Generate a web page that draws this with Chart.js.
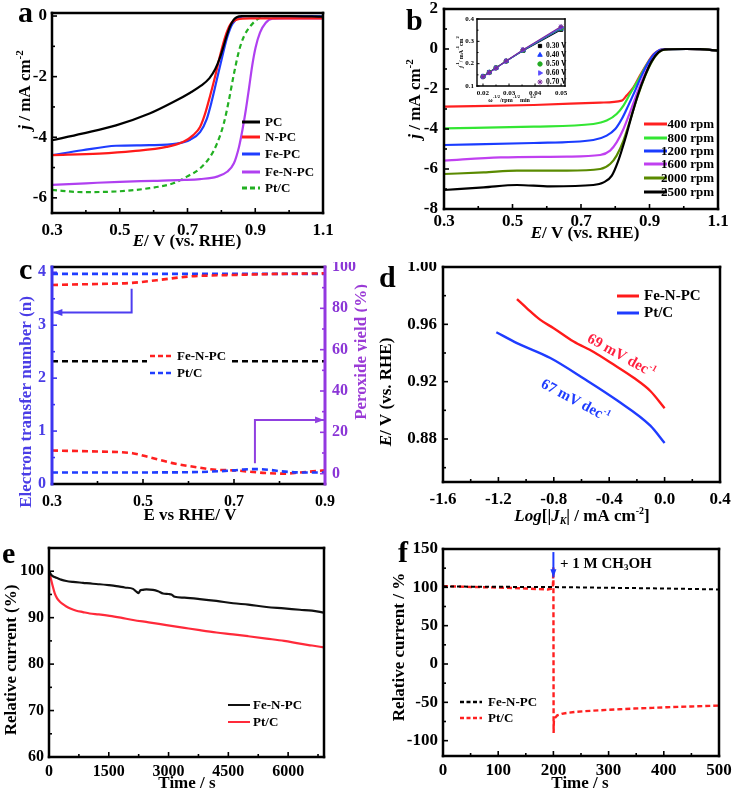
<!DOCTYPE html>
<html><head><meta charset="utf-8"><title>ORR performance figure</title>
<script src="https://cdn.jsdelivr.net/npm/chart.js@4.4.1/dist/chart.umd.min.js"></script>
<style>
html,body{margin:0;padding:0;background:#fff}
body{position:relative;width:734px;height:793px;overflow:hidden}
canvas{position:absolute;display:block}
#cBi{z-index:2}
</style></head><body>
<canvas id="cA"></canvas><canvas id="cB"></canvas><canvas id="cBi"></canvas><canvas id="cC"></canvas><canvas id="cD"></canvas><canvas id="cE"></canvas><canvas id="cF"></canvas>
<script>
// ================= DATA =================
// (a) LSV at 1600 rpm
const aPC_E   = [0.300,0.389,0.489,0.588,0.658,0.708,0.740,0.765,0.782,0.795,0.805,0.815,0.825,0.835,0.845,0.860,0.896,1.000,1.100];
const aPC_j   = [-4.10,-3.88,-3.61,-3.22,-2.84,-2.53,-2.30,-2.05,-1.75,-1.40,-1.05,-0.68,-0.36,-0.14,-0.04,0.00,0.00,0.00,-0.02];
const aNPC_E  = [0.300,0.439,0.539,0.638,0.688,0.717,0.737,0.752,0.767,0.782,0.797,0.812,0.827,0.847,0.886,1.000,1.100];
const aNPC_j  = [-4.59,-4.54,-4.46,-4.32,-4.15,-3.93,-3.66,-3.22,-2.62,-1.97,-1.26,-0.66,-0.27,-0.11,-0.08,-0.08,-0.08];
const aFePC_E = [0.300,0.389,0.489,0.588,0.668,0.708,0.737,0.757,0.772,0.787,0.802,0.817,0.832,0.852,0.877,1.000,1.100];
const aFePC_j = [-4.59,-4.43,-4.28,-4.26,-4.21,-4.08,-3.83,-3.39,-2.79,-2.08,-1.37,-0.71,-0.27,-0.05,0.00,0.00,-0.01];
const aFeNPC_E= [0.300,0.400,0.500,0.600,0.690,0.737,0.787,0.817,0.837,0.852,0.862,0.872,0.882,0.891,0.901,0.914,0.931,0.951,0.986,1.100];
const aFeNPC_j= [-5.57,-5.52,-5.47,-5.44,-5.41,-5.38,-5.30,-5.14,-4.86,-4.32,-3.77,-3.11,-2.35,-1.64,-1.04,-0.55,-0.22,-0.09,-0.08,-0.08];
const aPtC_E  = [0.300,0.389,0.489,0.588,0.658,0.698,0.737,0.767,0.787,0.807,0.822,0.837,0.852,0.867,0.886,0.906,0.936,1.000,1.100];
const aPtC_j  = [-5.74,-5.81,-5.79,-5.68,-5.52,-5.30,-5.03,-4.64,-4.21,-3.55,-2.79,-1.91,-1.15,-0.66,-0.33,-0.11,0.00,0.00,0.00];
const aLabels = ['PC','N-PC','Fe-PC','Fe-N-PC','Pt/C'];
const aTicksX = ['0.3','0.5','0.7','0.9','1.1'];
const aTicksY = ['0','-2','-4','-6'];

// (b) LSV of Fe-N-PC at different rotation rates
const bLabels = ['400 rpm','800 rpm','1200 rpm','1600 rpm','2000 rpm','2500 rpm'];
const b400_E  = [0.300,0.562,0.756,0.819,0.833,0.853,0.872,0.892,0.911,0.930,0.950,1.008,1.047,1.100];
const b400_j  = [-2.88,-2.80,-2.68,-2.58,-2.33,-1.92,-1.33,-0.75,-0.28,-0.05,0.00,0.00,-0.01,-0.08];
const b800_E  = [0.300,0.562,0.736,0.775,0.804,0.824,0.843,0.863,0.882,0.901,0.921,0.940,1.008,1.047,1.100];
const b800_j  = [-3.97,-3.88,-3.75,-3.58,-3.25,-2.83,-2.25,-1.67,-1.08,-0.55,-0.17,-0.02,0.00,-0.01,-0.08];
const b1200_E = [0.300,0.562,0.736,0.775,0.800,0.819,0.838,0.858,0.877,0.897,0.916,0.935,1.008,1.047,1.100];
const b1200_j = [-4.80,-4.70,-4.55,-4.33,-4.00,-3.50,-2.83,-2.08,-1.33,-0.67,-0.22,-0.03,0.00,-0.01,-0.08];
const b1600_E = [0.300,0.465,0.659,0.756,0.785,0.804,0.824,0.843,0.863,0.882,0.901,0.921,0.940,1.008,1.047,1.100];
const b1600_j = [-5.58,-5.42,-5.38,-5.30,-5.08,-4.67,-4.00,-3.17,-2.25,-1.42,-0.75,-0.25,-0.03,0.00,-0.01,-0.08];
const b2000_E = [0.300,0.416,0.513,0.659,0.756,0.785,0.804,0.824,0.843,0.863,0.882,0.901,0.921,0.940,1.008,1.047,1.100];
const b2000_j = [-6.25,-6.17,-6.08,-6.08,-6.00,-5.75,-5.33,-4.58,-3.58,-2.50,-1.58,-0.83,-0.28,-0.05,0.00,-0.01,-0.08];
const b2500_E = [0.300,0.416,0.513,0.610,0.736,0.766,0.790,0.809,0.829,0.848,0.867,0.887,0.906,0.926,0.945,1.008,1.047,1.100];
const b2500_j = [-7.05,-6.92,-6.80,-6.87,-6.80,-6.67,-6.33,-5.58,-4.50,-3.33,-2.25,-1.33,-0.62,-0.17,-0.02,0.00,-0.01,-0.08];
const bTicksX = ['0.3','0.5','0.7','0.9','1.1'];
const bTicksY = ['2','0','-2','-4','-6','-8'];

// (b inset) Koutecky-Levich plots
const kInvSqrtW = [0.0200,0.0224,0.0250,0.0289,0.0354,0.0500];
const k030 = [0.143,0.162,0.182,0.212,0.258,0.352];
const k040 = [0.143,0.161,0.181,0.211,0.259,0.356];
const k050 = [0.142,0.161,0.181,0.211,0.260,0.359];
const k060 = [0.142,0.160,0.180,0.211,0.261,0.362];
const k070 = [0.141,0.160,0.180,0.212,0.263,0.366];
const kLabels = ['0.30 V','0.40 V','0.50 V','0.60 V','0.70 V'];
const kTicksX = ['0.02','0.03','0.04','0.05'];
const kTicksY = ['0.1','0.2','0.3','0.4'];

// (c) electron transfer number and peroxide yield
const cLabels = ['Fe-N-PC','Pt/C'];
const cFeNPC_nE = [0.30,0.40,0.475,0.53,0.60,0.65,0.70,0.80,0.90];
const cFeNPC_n  = [3.76,3.78,3.80,3.85,3.92,3.94,3.95,3.97,3.98];
const cPtC_nE   = [0.30,0.50,0.70,0.90];
const cPtC_n    = [3.97,3.97,3.97,3.97];
const cRef_E    = [0.30,0.90];
const cRef_n    = [2.32,2.32];
const cFeNPC_pE = [0.30,0.40,0.477,0.513,0.565,0.624,0.66,0.70,0.77,0.81,0.845,0.90];
const cFeNPC_p  = [11.2,10.7,9.9,8.0,5.1,2.9,1.9,1.6,0.3,0.0,0.6,1.6];
const cPtC_pE   = [0.30,0.40,0.50,0.60,0.65,0.70,0.72,0.75,0.78,0.80,0.85,0.90];
const cPtC_p    = [0.6,0.6,0.6,0.7,1.0,1.6,2.0,2.2,1.8,1.2,0.6,0.6];
const cTicksX = ['0.3','0.5','0.7','0.9'];
const cTicksN = ['0','1','2','3','4'];
const cTicksP = ['0','20','40','60','80','100'];

// (d) Tafel plots
const dLabels = ['Fe-N-PC','Pt/C'];
const dFeNPC_logJ = [-1.066,-0.994,-0.897,-0.801,-0.657,-0.512,-0.368,-0.223,-0.103,0.000];
const dFeNPC_E    = [0.9776,0.9712,0.9631,0.9573,0.9480,0.9407,0.9319,0.9227,0.9135,0.9015];
const dPtC_logJ   = [-1.215,-1.066,-0.825,-0.584,-0.344,-0.103,0.000];
const dPtC_E      = [0.9545,0.9469,0.9365,0.9222,0.9070,0.8893,0.8772];
const dTicksX = ['-1.6','-1.2','-0.8','-0.4','0.0','0.4'];
const dTicksY = ['0.88','0.92','0.96','1.00'];

// (e) chronoamperometric stability
const eLabels = ['Fe-N-PC','Pt/C'];
const eFeNPC_t = [0,30,59,120,184,300,435,600,854,1100,1272,1500,1690,1900,2109,2193,2250,2293,2350,2443,2611,2736,2862,3000,3071,3155,3400,3783,4200,4620,5000,5456,5900,6293,6600,6895];
const eFeNPC_i = [100,99.6,99.2,98.8,98.6,98.2,97.9,97.7,97.5,97.3,97.2,97.0,96.8,96.5,96.2,95.6,95.3,95.9,96.0,96.1,96.0,95.7,95.2,95.1,95.0,94.5,94.3,94.0,93.6,93.1,92.8,92.3,92.0,91.7,91.5,91.1];
const ePtC_t = [0,33,84,142,200,268,350,435,550,686,850,1021,1250,1523,1800,2109,2500,2946,3400,3783,4200,4619,5000,5456,5900,6293,6600,6895];
const ePtC_i = [100,98.9,97.1,95.3,94.2,93.5,92.9,92.4,91.9,91.5,91.2,90.9,90.7,90.4,90.0,89.5,89.0,88.4,87.8,87.3,86.8,86.4,86.0,85.5,85.0,84.4,84.0,83.6];
const eTicksX = ['0','1500','3000','4500','6000'];
const eTicksY = ['60','70','80','90','100'];

// (f) methanol tolerance
const fLabels = ['Fe-N-PC','Pt/C'];
const fFeNPC_t = [0,50,100,150,200,250,300,350,400,450,500];
const fFeNPC_i = [101.1,100.9,100.7,100.5,100.3,99.9,99.4,99.0,98.5,97.9,97.2];
const fPtC_t = [0,50,100,150,190,199,200,200.4,200.8,202,207,215,225,240,255,285,320,346,380,406,450,500];
const fPtC_i = [101.6,100.5,99.8,98.5,97.2,98.5,126,-90,-75,-71,-67,-65,-63.8,-62.5,-61.6,-60.3,-59,-58.1,-57.2,-56.4,-55.4,-54.2];
const fTicksX = ['0','100','200','300','400','500'];
const fTicksY = ['-100','-50','0','50','100','150'];
const fAddTime = [200];

// ================= LAYOUT / STYLE =================
const serif = "'Liberation Serif','Times New Roman',Times,serif";
const B  = s => `bold ${s}px ${serif}`;
const BI = s => `italic bold ${s}px ${serif}`;
const geo = {
  a:{x:0,y:0,w:367,h:262,L:52,R:323,T:13,B:213},
  b:{x:367,y:0,w:367,h:262,L:444,R:718,T:9,B:209},
  bi:{x:448,y:14,w:124,h:92,L:477,R:565,T:19,B:86},
  c:{x:0,y:262,w:367,h:268,L:52,R:325,T:267,B:484},
  d:{x:367,y:262,w:367,h:268,L:443,R:720,T:267,B:482},
  e:{x:0,y:530,w:367,h:263,L:49,R:324,T:548,B:757},
  f:{x:367,y:530,w:367,h:263,L:443,R:719,T:549,B:756}
};
const pts = (xs, ys) => xs.map((x,i)=>({x, y:ys[i]}));

function drawRich(ctx, parts, x, y, rot, align, baseline){
  ctx.save();
  ctx.translate(x,y);
  if (rot) ctx.rotate(rot);
  ctx.textBaseline = baseline || 'middle';
  let w = 0;
  parts.forEach(p=>{ctx.font=p.f; w+=ctx.measureText(p.t).width;});
  let cx = align==='left'?0:(align==='right'?-w:-w/2);
  parts.forEach(p=>{ctx.font=p.f; ctx.fillStyle=p.c||'#000'; ctx.fillText(p.t,cx,p.dy||0); cx+=ctx.measureText(p.t).width;});
  ctx.restore();
}
function seg(ctx, x1,y1,x2,y2,c,w,dash){
  ctx.save(); ctx.strokeStyle=c; ctx.lineWidth=w; ctx.setLineDash(dash||[]);
  ctx.beginPath(); ctx.moveTo(x1,y1); ctx.lineTo(x2,y2); ctx.stroke(); ctx.restore();
}
function arrowPath(ctx, P, c, w, head){
  ctx.save(); ctx.strokeStyle=c; ctx.fillStyle=c; ctx.lineWidth=w;
  ctx.beginPath(); ctx.moveTo(P[0][0],P[0][1]);
  for (let i=1;i<P.length;i++) ctx.lineTo(P[i][0],P[i][1]);
  ctx.stroke();
  const n=P.length, [x2,y2]=P[n-1], [x1,y1]=P[n-2];
  const ang=Math.atan2(y2-y1,x2-x1), h=head||8;
  ctx.beginPath(); ctx.moveTo(x2,y2);
  ctx.lineTo(x2-h*Math.cos(ang)+h*0.38*Math.sin(ang), y2-h*Math.sin(ang)-h*0.38*Math.cos(ang));
  ctx.lineTo(x2-h*Math.cos(ang)-h*0.38*Math.sin(ang), y2-h*Math.sin(ang)+h*0.38*Math.cos(ang));
  ctx.closePath(); ctx.fill(); ctx.restore();
}

function mkAxis(pos, s, fit){
  const vertical = pos!=='bottom';
  return {
    type:'linear', position:pos, min:s.min, max:s.max,
    grid:{display:false, drawTicks:false}, border:{display:false},
    afterBuildTicks: sc => { sc.ticks = s.ticks.map(t=>({value:Number(t)})); },
    afterFit: sc => {
      if (vertical) sc.width = fit; else sc.height = fit;
      sc.paddingLeft = 0; sc.paddingRight = 0; sc.paddingTop = 0; sc.paddingBottom = 0;
    },
    ticks:{ autoSkip:false, maxRotation:0, minRotation:0, padding:s.pad==null?5:s.pad,
      color:s.color||'#000', font:{family:serif, weight:'bold', size:s.size||16},
      callback:(v,i)=>s.ticks[i] }
  };
}

function frame(chart, o){
  const ctx = chart.ctx, a = chart.chartArea;
  o = o || {};
  const lw = o.lw || 2.5;
  const col = Object.assign({top:'#000',right:'#000',bottom:'#000',left:'#000'}, o.colors||{});
  const wid = Object.assign({top:lw,right:lw,bottom:lw,left:lw}, o.widths||{});
  const tl = o.tl || 5, mtl = o.mtl || 3;
  ctx.save();
  const doTicks = (s, edge, c) => {
    if (!s) return;
    const vals = s.ticks.map(t=>t.value);
    const st = vals[1]-vals[0];
    const minors = [vals[0]-st/2, vals[vals.length-1]+st/2];
    for (let i=0;i<vals.length-1;i++) minors.push((vals[i]+vals[i+1])/2);
    ctx.strokeStyle = c; ctx.lineWidth = o.tw || 1.6;
    const lo = Math.min(s.min,s.max)-1e-9, hi = Math.max(s.min,s.max)+1e-9;
    const draw = (v,len) => {
      if (v<lo || v>hi) return;
      const p = s.getPixelForValue(v);
      ctx.beginPath();
      if (edge==='bottom'){ctx.moveTo(p,a.bottom);ctx.lineTo(p,a.bottom-len);}
      else if (edge==='left'){ctx.moveTo(a.left,p);ctx.lineTo(a.left+len,p);}
      else {ctx.moveTo(a.right,p);ctx.lineTo(a.right-len,p);}
      ctx.stroke();
    };
    vals.forEach(v=>draw(v,tl)); minors.forEach(v=>draw(v,mtl));
  };
  doTicks(chart.scales.x,'bottom',col.bottom);
  doTicks(chart.scales.y,'left',col.left);
  doTicks(chart.scales.y2,'right',col.right);
  ctx.lineCap='square';
  const side=(x1,y1,x2,y2,c,w)=>{ctx.strokeStyle=c;ctx.lineWidth=w;ctx.beginPath();ctx.moveTo(x1,y1);ctx.lineTo(x2,y2);ctx.stroke();};
  side(a.left,a.top,a.right,a.top,col.top,wid.top);
  side(a.left,a.bottom,a.right,a.bottom,col.bottom,wid.bottom);
  side(a.left,a.top,a.left,a.bottom,col.left,wid.left);
  side(a.right,a.top,a.right,a.bottom,col.right,wid.right);
  ctx.restore();
}

function line(data, color, w, dash, extra){
  return Object.assign({data, borderColor:color, backgroundColor:color, borderWidth:w, borderDash:dash||[],
    showLine:true, pointRadius:0, fill:false, cubicInterpolationMode:'monotone'}, extra||{});
}

function makeChart(id, g, datasets, xs, ys, y2s, fr, deco){
  const cv = document.getElementById(id);
  cv.width=g.w; cv.height=g.h;
  cv.style.left=g.x+'px'; cv.style.top=g.y+'px'; cv.style.width=g.w+'px'; cv.style.height=g.h+'px';
  const scales = { x: mkAxis('bottom', xs, g.y+g.h-g.B), y: mkAxis('left', ys, g.L-g.x) };
  if (y2s) scales.y2 = mkAxis('right', y2s, g.x+g.w-g.R);
  return new Chart(cv, {
    type:'scatter',
    data:{datasets},
    options:{ responsive:false, maintainAspectRatio:false, animation:false, devicePixelRatio:1, events:[],
      layout:{padding:{left:0, top:g.T-g.y, bottom:0, right: y2s?0:(g.x+g.w-g.R)}},
      scales, plugins:{legend:{display:false}, tooltip:{enabled:false}} },
    plugins:[{id:'deco', afterDraw(ch){
      frame(ch, fr);
      const ctx=ch.ctx; ctx.save(); ctx.translate(-g.x,-g.y);
      const X = v => ch.scales.x.getPixelForValue(v)+g.x;
      const Y = v => ch.scales.y.getPixelForValue(v)+g.y;
      const Y2 = v => ch.scales.y2 ? ch.scales.y2.getPixelForValue(v)+g.y : 0;
      deco(ctx, X, Y, Y2);
      ctx.restore();
    }}]
  });
}

// ================= PANEL a =================
const aColors = ['#000000','#ff1a1a','#1f3dff','#b040f0','#22b022'];
makeChart('cA', geo.a, [
  line(pts(aPC_E,aPC_j), aColors[0], 2.2),
  line(pts(aNPC_E,aNPC_j), aColors[1], 2.2),
  line(pts(aFePC_E,aFePC_j), aColors[2], 2.2),
  line(pts(aFeNPC_E,aFeNPC_j), aColors[3], 2.2),
  line(pts(aPtC_E,aPtC_j), aColors[4], 2.2, [5,3.5])
], {min:0.3,max:1.1,ticks:aTicksX,size:17,pad:7}, {min:-6.5,max:0.1,ticks:aTicksY,size:17,pad:5}, null, {}, (ctx)=>{
  drawRich(ctx,[{t:'a',f:B(30)}],18,22,0,'left','alphabetic');
  drawRich(ctx,[{t:'j',f:BI(17)},{t:' / mA cm',f:B(17)},{t:'-2',f:B(11),dy:-6}],26,90,-Math.PI/2);
  drawRich(ctx,[{t:'E',f:BI(17)},{t:'/ V (vs. RHE)',f:B(17)}],187,242);
  const rows=[122,137,154,172,188];
  aLabels.forEach((l,i)=>{
    seg(ctx,242,rows[i],260,rows[i],aColors[i],3,i===4?[5,3]:[]);
    drawRich(ctx,[{t:l,f:B(13)}],265,rows[i]+0.5,0,'left');
  });
});

// ================= PANEL b =================
const bColors = ['#ff2020','#33e633','#1a3cff','#c040f0','#5a8a00','#000000'];
const bE = [b400_E,b800_E,b1200_E,b1600_E,b2000_E,b2500_E];
const bJ = [b400_j,b800_j,b1200_j,b1600_j,b2000_j,b2500_j];
makeChart('cB', geo.b, bE.map((e,i)=>line(pts(e,bJ[i]), bColors[i], 2.2, [], {order:-i})),
  {min:0.3,max:1.1,ticks:bTicksX,size:17,pad:2}, {min:-8,max:2,ticks:bTicksY,size:17,pad:6}, null, {}, (ctx)=>{
  drawRich(ctx,[{t:'b',f:B(30)}],406,30,0,'left','alphabetic');
  drawRich(ctx,[{t:'j',f:BI(17)},{t:' / mA cm',f:B(17)},{t:'-2',f:B(11),dy:-6}],416,99,-Math.PI/2);
  drawRich(ctx,[{t:'E',f:BI(17)},{t:'/ V (vs. RHE)',f:B(17)}],585,234);
  const rows=[124,138,151,164,178,192];
  bLabels.forEach((l,i)=>{
    seg(ctx,644,rows[i],667,rows[i],bColors[i],3);
    drawRich(ctx,[{t:l,f:B(13)}],714,rows[i]+0.5,0,'right');
  });
});

// ================= PANEL b inset =================
const kColors = ['#000000','#1a3cff','#22aa22','#5a4cff','#7a2a9a'];
const kStyles = [{s:'rect',r:2.3,rot:0},{s:'triangle',r:2.6,rot:0},{s:'circle',r:2.2,rot:0},{s:'triangle',r:2.6,rot:90},{s:'star',r:2.6,rot:0}];
const kSeries = [k030,k040,k050,k060,k070];
makeChart('cBi', geo.bi, kSeries.map((k,i)=>({data:pts(kInvSqrtW,k), showLine:true, borderColor:kColors[i], backgroundColor:kColors[i],
    borderWidth:1.1, pointStyle:kStyles[i].s, pointRadius:kStyles[i].r, pointRotation:kStyles[i].rot, pointBorderWidth:1, tension:0, order:-i})),
  {min:0.0177,max:0.0515,ticks:kTicksX,size:7,pad:3}, {min:0.1,max:0.4,ticks:kTicksY,size:7,pad:3}, null, {lw:1.4,tl:2.5,mtl:1.5,tw:1}, (ctx)=>{
  drawRich(ctx,[{t:'j',f:BI(6)},{t:'-1',f:B(4.5),dy:-3},{t:'/ mA',f:B(6)},{t:'-1',f:B(4.5),dy:-3},{t:'cm',f:B(6)},{t:'2',f:B(4.5),dy:-3}],461,52,-Math.PI/2);
  drawRich(ctx,[{t:'ω',f:B(6)},{t:'-1/2',f:B(4.5),dy:-3},{t:'/rpm',f:B(6)},{t:'-1/2',f:B(4.5),dy:-3},{t:'min',f:B(6)},{t:'1/2',f:B(4.5),dy:-3}],512,100);
  const rows=[46,55,64,73,82];
  kLabels.forEach((l,i)=>{
    ctx.save(); ctx.fillStyle=kColors[i]; ctx.strokeStyle=kColors[i]; ctx.lineWidth=1;
    Chart.helpers.drawPoint(ctx,{pointStyle:kStyles[i].s, radius:kStyles[i].r, rotation:kStyles[i].rot, borderWidth:1}, 540, rows[i]);
    ctx.restore();
    drawRich(ctx,[{t:l,f:B(7.5)}],546,rows[i]+0.5,0,'left');
  });
});

// ================= PANEL c =================
const cBlue='#3d35f0', cPurple='#9338e0';
makeChart('cC', geo.c, [
  line(pts(cRef_E,cRef_n), '#000000', 2.4, [6,4], {order:5}),
  line(pts(cFeNPC_nE,cFeNPC_n), '#ff2020', 2.6, [6,4]),
  line(pts(cPtC_nE,cPtC_n), '#1f3dff', 2.6, [6,4]),
  line(pts(cFeNPC_pE,cFeNPC_p), '#ff2020', 2.6, [6,4], {yAxisID:'y2'}),
  line(pts(cPtC_pE,cPtC_p), '#1f3dff', 2.6, [6,4], {yAxisID:'y2', order:-1})
], {min:0.3,max:0.9,ticks:cTicksX,size:16,pad:8}, {min:0,max:4.1,ticks:cTicksN,size:16,pad:6,color:'#4a3de6'},
  {min:-5,max:100,ticks:cTicksP,size:16,pad:7,color:'#8a35d6'},
  {colors:{left:cBlue,right:cPurple},widths:{left:3,right:3}}, (ctx,X,Y,Y2)=>{
  drawRich(ctx,[{t:'c',f:B(30)}],19,279,0,'left','alphabetic');
  drawRich(ctx,[{t:'Electron transfer number (n)',f:B(17),c:'#4a3de6'}],27,402,-Math.PI/2);
  drawRich(ctx,[{t:'Peroxide yield (%)',f:B(17),c:'#9a3ad6'}],362,352,-Math.PI/2);
  drawRich(ctx,[{t:'E vs RHE/ V',f:B(17)}],190,516);
  // legend box (white) occluding the reference line
  ctx.fillStyle='#fff'; ctx.fillRect(147,346,83,36);
  seg(ctx,150,356,172,356,'#ff2020',2.6,[5,3]);
  seg(ctx,150,373,172,373,'#1f3dff',2.6,[5,3]);
  drawRich(ctx,[{t:cLabels[0],f:B(13)}],177,356.5,0,'left');
  drawRich(ctx,[{t:cLabels[1],f:B(13)}],177,373.5,0,'left');
  // arrows pointing to the respective axes
  arrowPath(ctx,[[X(0.475),Y(3.69)],[X(0.475),Y(3.24)],[X(0.303),Y(3.24)]],'#4d3df0',2,9);
  arrowPath(ctx,[[X(0.746),Y2(5)],[X(0.746),Y2(26)],[X(0.898),Y2(26)]],'#9040e0',2,9);
});

// ================= PANEL d =================
makeChart('cD', geo.d, [
  line(pts(dFeNPC_logJ,dFeNPC_E), '#ff1a1a', 2.4),
  line(pts(dPtC_logJ,dPtC_E), '#1f3cff', 2.4)
], {min:-1.6,max:0.4,ticks:dTicksX,size:17,pad:7}, {min:0.85,max:1.0,ticks:dTicksY,size:17,pad:6}, null, {}, (ctx)=>{
  drawRich(ctx,[{t:'d',f:B(30)}],379,287,0,'left','alphabetic');
  drawRich(ctx,[{t:'E',f:BI(17)},{t:'/ V (vs. RHE)',f:B(17)}],387,392,-Math.PI/2);
  drawRich(ctx,[{t:'Log',f:BI(17)},{t:'[|',f:B(17)},{t:'J',f:BI(17)},{t:'K',f:BI(10),dy:4},{t:'| / mA cm',f:B(17)},{t:'-2',f:B(10),dy:-6},{t:']',f:B(17)}],582,517);
  seg(ctx,617,296,639,296,'#ff1a1a',3); seg(ctx,617,313,639,313,'#1f3cff',3);
  drawRich(ctx,[{t:dLabels[0],f:B(15)}],644,296.5,0,'left');
  drawRich(ctx,[{t:dLabels[1],f:B(15)}],644,313.5,0,'left');
  drawRich(ctx,[{t:'69 mV dec',f:B(15),c:'#ff2040'},{t:'-1',f:B(9),dy:-5,c:'#ff2040'}],621,356,29*Math.PI/180);
  drawRich(ctx,[{t:'67 mV dec',f:B(15),c:'#1f3cff'},{t:'-1',f:B(9),dy:-5,c:'#1f3cff'}],575,401,28*Math.PI/180);
});

// ================= PANEL e =================
makeChart('cE', geo.e, [
  line(pts(eFeNPC_t,eFeNPC_i), '#111111', 2.2),
  line(pts(ePtC_t,ePtC_i), '#ff2a3a', 2.2)
], {min:0,max:6900,ticks:eTicksX,size:16,pad:5}, {min:60,max:105,ticks:eTicksY,size:16,pad:5}, null, {}, (ctx)=>{
  drawRich(ctx,[{t:'e',f:B(30)}],2,563,0,'left','alphabetic');
  drawRich(ctx,[{t:'Relative current (%)',f:B(17)}],12,660,-Math.PI/2);
  drawRich(ctx,[{t:'Time / s',f:B(17)}],187,784);
  seg(ctx,228,705,250,705,'#111111',2); seg(ctx,228,722,250,722,'#ff2a3a',2);
  drawRich(ctx,[{t:eLabels[0],f:B(13)}],253,705.5,0,'left');
  drawRich(ctx,[{t:eLabels[1],f:B(13)}],253,722.5,0,'left');
});

// ================= PANEL f =================
makeChart('cF', geo.f, [
  line(pts(fFeNPC_t,fFeNPC_i), '#000000', 2, [4,3], {cubicInterpolationMode:'default', tension:0}),
  line(pts(fPtC_t,fPtC_i), '#ff2020', 2.4, [5,3], {cubicInterpolationMode:'default', tension:0})
], {min:0,max:500,ticks:fTicksX,size:17,pad:4}, {min:-120,max:150,ticks:fTicksY,size:17,pad:5}, null, {}, (ctx,X,Y)=>{
  drawRich(ctx,[{t:'f',f:B(30)}],398,562,0,'left','alphabetic');
  drawRich(ctx,[{t:'Relative current / %',f:B(17)}],400,647,-Math.PI/2);
  drawRich(ctx,[{t:'Time / s',f:B(17)}],580,784);
  arrowPath(ctx,[[X(fAddTime[0]),Y(146)],[X(fAddTime[0]),Y(113)]],'#1f3cff',2,8);
  drawRich(ctx,[{t:'+ 1 M CH',f:B(15)},{t:'3',f:B(9),dy:4},{t:'OH',f:B(15)}],560,564,0,'left');
  seg(ctx,460,702,482,702,'#000000',2.4,[4,2.5]); seg(ctx,460,718,482,718,'#ff2020',2.4,[4,2.5]);
  drawRich(ctx,[{t:fLabels[0],f:B(13)}],488,702.5,0,'left');
  drawRich(ctx,[{t:fLabels[1],f:B(13)}],488,718.5,0,'left');
});
</script>
</body></html>
